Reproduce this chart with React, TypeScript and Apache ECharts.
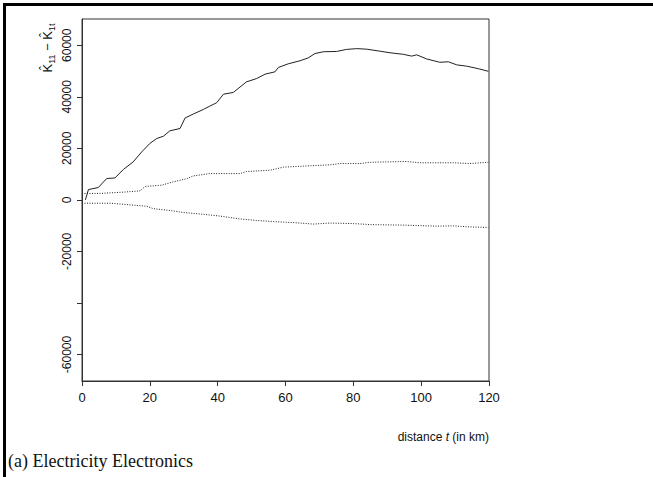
import React, { useEffect, useRef } from "react";
import * as echarts from "echarts";

// distance t (km) and values
const solidT = [1, 1.9, 4.8, 7.3, 9.7, 12.2, 15.1, 17.6, 20, 22, 24, 25.9, 28.9, 30.4, 32.8, 35.8, 37.7, 39.7, 41.7, 44.6, 48.5, 51.5, 54, 56.9, 57.9, 60.8, 64.3, 66.7, 68.7, 71.2, 75.1, 78, 81, 83.9, 87.9, 90.8, 94.7, 97.2, 98.7, 101.6, 105.5, 108, 110.5, 113.4, 116.9, 119.8];
const solidV = [0, 4000, 4800, 8300, 8500, 11800, 14750, 18600, 21900, 23800, 24700, 26800, 27700, 31800, 33300, 35100, 36400, 37700, 41000, 41700, 45800, 47100, 48800, 49700, 51400, 52800, 54000, 55100, 56800, 57500, 57600, 58400, 58700, 58500, 57700, 57100, 56500, 55800, 56300, 54700, 53400, 53600, 52400, 51900, 50900, 49900];

const upperT = [0, 5.3, 12.2, 17.1, 18.6, 23.5, 26.9, 30.9, 32.8, 37.7, 46.6, 48.5, 55.4, 59.4, 65.3, 73.1, 76.1, 82, 84.9, 95.7, 99.6, 109.5, 114.4, 119.8];
const upperV = [2500, 2500, 3000, 3500, 5200, 5700, 7000, 8200, 9300, 10200, 10200, 11000, 11500, 12700, 13100, 13600, 14100, 14100, 14600, 14900, 14400, 14400, 14100, 14600];

const lowerT = [0, 8.3, 12.2, 19.1, 21, 25.9, 29.9, 35.8, 40.7, 46.6, 51.5, 57.4, 63.3, 68.2, 73.1, 80, 84.9, 94.7, 104.6, 109.5, 114.4, 119.8];
const lowerV = [-1300, -1300, -1700, -2500, -3400, -4100, -4900, -5600, -6300, -7400, -8000, -8500, -8900, -9400, -9000, -9200, -9600, -9800, -10200, -10100, -10500, -10700];

const xTicks = [0, 20, 40, 60, 80, 100, 120];
const yTicks = [60000, 40000, 20000, 0, -20000, -40000, -60000];
const yLabels = [60000, 40000, 20000, 0, -20000, -60000];

const pairs = (t: number[], v: number[]) => t.map((x, i) => [x, v[i]]);

export default function App() {
  const ref = useRef<HTMLDivElement>(null);
  useEffect(() => {
    if (!ref.current) return;
    const chart = echarts.init(ref.current, null, { renderer: "svg" });
    const axisFont = "Liberation Sans, Arial, sans-serif";
    chart.setOption({
      animation: false,
      backgroundColor: "#fff",
      grid: {
        left: 82,
        right: 164,
        top: 19,
        bottom: 96,
        show: true,
        borderColor: "#333",
        borderWidth: 1,
        backgroundColor: "transparent",
      },
      xAxis: {
        type: "value",
        min: 0,
        max: 120,
        axisLine: { show: true, onZero: false, lineStyle: { color: "#333", width: 1 } },
        axisTick: { show: true, length: 5, customValues: xTicks, lineStyle: { color: "#333" } },
        axisLabel: {
          customValues: xTicks,
          margin: 10,
          fontSize: 13,
          color: "#111",
          fontFamily: axisFont,
          formatter: (v: number) => String(v),
        },
        splitLine: { show: false },
      },
      yAxis: {
        type: "value",
        min: -70300,
        max: 70200,
        axisLine: { show: true, onZero: false, lineStyle: { color: "#333", width: 1 } },
        axisTick: { show: true, length: 5, customValues: yTicks, lineStyle: { color: "#333" } },
        axisLabel: {
          customValues: yLabels,
          rotate: 90,
          margin: 9,
          fontSize: 12,
          color: "#111",
          fontFamily: "Liberation Sans Narrow, Liberation Sans, Arial, sans-serif",
          formatter: (v: number) => String(v),
        },
        splitLine: { show: false },
      },
      series: [
        {
          type: "line",
          data: pairs(solidT, solidV),
          showSymbol: false,
          lineStyle: { color: "#222", width: 1 },
        },
        {
          type: "line",
          data: pairs(upperT, upperV),
          showSymbol: false,
          lineStyle: { color: "#222", width: 1, type: [1, 1.5] },
        },
        {
          type: "line",
          data: pairs(lowerT, lowerV),
          showSymbol: false,
          lineStyle: { color: "#222", width: 1, type: [1, 1.5] },
        },
      ],
      graphic: [
        {
          type: "line",
          shape: { x1: 3, y1: 4.5, x2: 653, y2: 4.5 },
          style: { stroke: "#000", lineWidth: 3 },
        },
        {
          type: "line",
          shape: { x1: 4.5, y1: 3, x2: 4.5, y2: 477 },
          style: { stroke: "#000", lineWidth: 3 },
        },
        {
          type: "text",
          x: 47,
          y: 48,
          rotation: Math.PI / 2,
          style: {
            text: "{k|K\u0302}{s|11}{k| \u2212 K\u0302}{s|1t}",
            align: "center",
            verticalAlign: "middle",
            fill: "#111",
            rich: {
              k: { fontSize: 13, fontFamily: axisFont, fill: "#111", lineHeight: 18, verticalAlign: "middle" },
              s: { fontSize: 9, fontFamily: axisFont, fill: "#111", lineHeight: 18, verticalAlign: "bottom" },
            },
          },
        },
        {
          type: "text",
          x: 489,
          y: 437,
          style: {
            text: "distance {i|t} (in km)",
            align: "right",
            verticalAlign: "middle",
            fontSize: 12,
            fontFamily: axisFont,
            fill: "#111",
            rich: {
              i: { fontSize: 12, fontStyle: "italic", fontFamily: axisFont, fill: "#111" },
            },
          },
        },
        {
          type: "text",
          x: 8,
          y: 461,
          style: {
            text: "(a) Electricity Electronics",
            align: "left",
            verticalAlign: "middle",
            fontSize: 18,
            fontFamily: "Liberation Serif, Times New Roman, serif",
            fill: "#111",
          },
        },
      ],
    });
    return () => chart.dispose();
  }, []);
  return (
    <div
      ref={ref}
      style={{ position: "absolute", left: 0, top: 0, width: 653, height: 477 }}
    />
  );
}
